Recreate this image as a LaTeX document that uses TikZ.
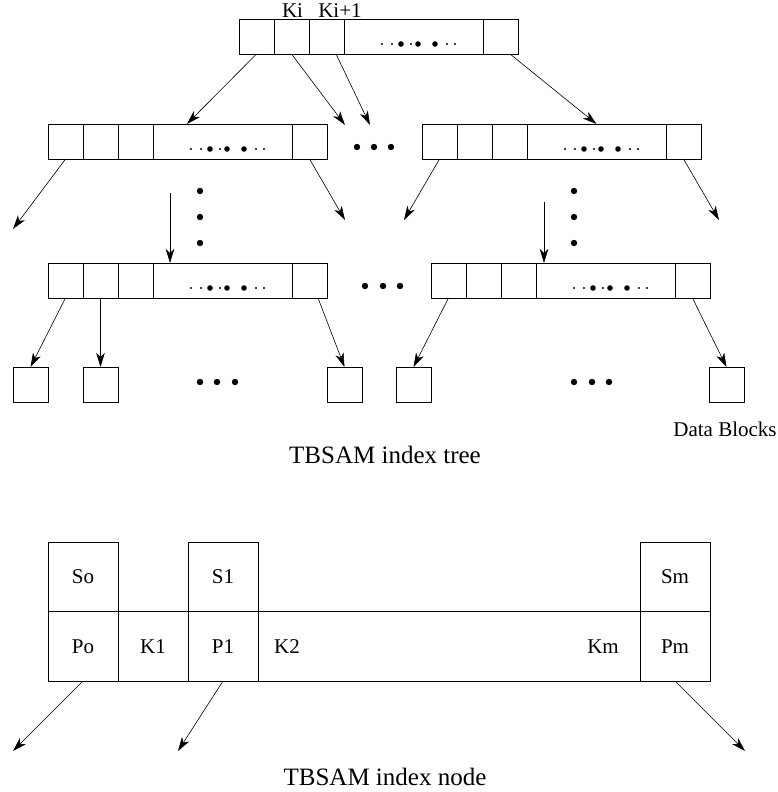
\documentclass[tikz,border=0pt]{standalone}
\usepackage{fontspec}
\setmainfont{Liberation Serif}
\usetikzlibrary{arrows.meta,positioning,calc}
\tikzset{
  cella/.style={draw,line width=0.8pt,minimum width=35pt,minimum height=35pt,inner sep=0pt,outer sep=0pt},
  kozep/.style={cella,minimum width=139pt},
  blokk/.style={cella},
  mezo/.style={draw,line width=0.8pt,minimum width=70pt,minimum height=69.5pt,inner sep=0pt,outer sep=0pt,
               font=\fontsize{21}{25}\selectfont},
  nyil/.style={-{Stealth[length=14pt,width=8.5pt,inset=4pt]},line width=0.6pt},
  cimke/.style={font=\fontsize{21}{25}\selectfont,inner sep=0pt},
  felirat/.style={font=\fontsize{25}{29}\selectfont,inner sep=0pt},
}
% index node of the tree: five cells, the fourth one wide, with its dots
\newcommand{\csomopont}[3]{%
  \node[cella,anchor=north west] (#1-1) at (#2,#3) {};
  \node[cella,right=0pt of #1-1] (#1-2) {};
  \node[cella,right=0pt of #1-2] (#1-3) {};
  \node[kozep,right=0pt of #1-3] (#1-4) {};
  \node[cella,right=0pt of #1-4] (#1-5) {};
  \foreach \dx in {38,48,67,103,111} \fill ($(#1-4.west)+(\dx,7.5)$) circle (1.1pt);
  \foreach \dx in {57,74,91} \fill ($(#1-4.west)+(\dx,7.5)$) circle (2.8pt);
}

\begin{document}
\begin{tikzpicture}[x=1pt,y=-1pt]
  \useasboundingbox (0,0) rectangle (778,792);

  % the tree
  \csomopont{gy}{239}{19}
  \csomopont{kb}{48}{124}
  \csomopont{kj}{422}{124}
  \csomopont{ab}{48}{263}
  \csomopont{aj}{431}{263}
  \node[cimke,anchor=base] (ki) at (292.5,18) {Ki};
  \node[cimke,anchor=base] (ki1) at (340,18) {Ki+1};

  \node[blokk,anchor=north west] (l1) at (13,367) {};
  \node[blokk,anchor=north west] (l2) at (83,367) {};
  \node[blokk,anchor=north west] (l3) at (327,367) {};
  \node[blokk,anchor=north west] (l4) at (396,367) {};
  \node[blokk,anchor=north west] (l5) at (709,367) {};
  \node[cimke,anchor=base] (adat) at (725,436) {Data Blocks};
  \node[felirat,anchor=base] (fa) at (385,463) {TBSAM index tree};

  \coordinate (c1) at (345,125); \coordinate (c2) at (370,125);
  \coordinate (d1) at (13,229);  \coordinate (d2) at (345,220);
  \coordinate (d3) at (404,220); \coordinate (d4) at (719,220);
  \coordinate (e1) at (170,193); \coordinate (e2) at (544,202);

  \draw[nyil] (gy-1.south) -- ($(kb-4.north west)+(34,0)$);
  \draw[nyil] (gy-2.south) -- (c1);
  \draw[nyil] ($(gy-3.south)+(9.5,0)$) -- (c2);
  \draw[nyil] ($(gy-5.south)+(9.5,0)$) -- (kj-4.north);
  \draw[nyil] (kb-1.south) -- (d1); \draw[nyil] (kb-5.south) -- (d2);
  \draw[nyil] (kj-1.south) -- (d3); \draw[nyil] (kj-5.south) -- (d4);
  \draw[nyil] (e1) -- ($(ab-4.north west)+(17,0)$);
  \draw[nyil] (e2) -- ($(aj-4.north west)+(8,0)$);
  \draw[nyil] (ab-1.south) -- (l1.north); \draw[nyil] (ab-2.south) -- (l2.north);
  \draw[nyil] ($(ab-5.south)+(8.5,0)$) -- (l3.north);
  \draw[nyil] (aj-1.south) -- (l4.north); \draw[nyil] (aj-5.south) -- (l5.north);

  % dots between the nodes
  \foreach \x in {357,374,391} \fill (\x,147) circle (3.2pt);
  \foreach \x in {365,383,400} \fill (\x,286) circle (3.2pt);
  \foreach \x in {200,217,235,574,592,609} \fill (\x,382) circle (3.2pt);
  \foreach \y in {191,217,243} {\fill (200,\y) circle (3.2pt); \fill (574,\y) circle (3.2pt);}

  % one index node in detail
  \node[mezo,anchor=north west] (so) at (48,542) {So};
  \node[mezo,below=0pt of so] (po) {Po};
  \node[mezo,right=0pt of po] (k1) {K1};
  \node[mezo,right=0pt of k1] (p1) {P1};
  \node[mezo,above=0pt of p1] (s1) {S1};
  \node[mezo,minimum width=382pt,right=0pt of p1] (kk) {};
  \node[mezo,right=0pt of kk] (pm) {Pm};
  \node[mezo,above=0pt of pm] (sm) {Sm};
  \node[cimke] (k2) at ($(kk.west)+(29,0)$) {K2};
  \node[cimke] (km) at ($(kk.east)+(-37,0)$) {Km};
  \node[felirat,anchor=base] (csp) at (385,785) {TBSAM index node};

  \coordinate (b1) at (13,751); \coordinate (b2) at (178,751); \coordinate (b3) at (745,751);
  \draw[nyil] (po.south) -- (b1);
  \draw[nyil] (p1.south) -- (b2);
  \draw[nyil] (pm.south) -- (b3);
\end{tikzpicture}
\end{document}
